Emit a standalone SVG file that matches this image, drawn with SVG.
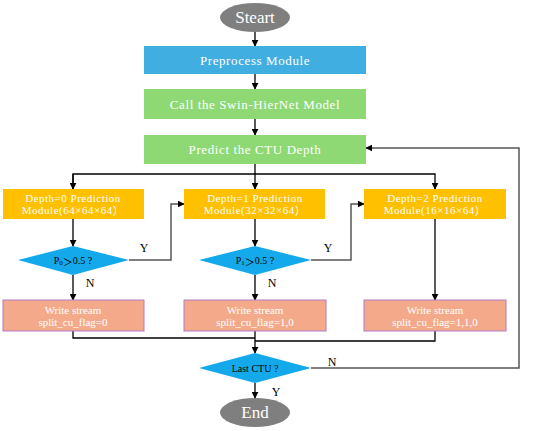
<svg xmlns="http://www.w3.org/2000/svg" width="550" height="431" viewBox="0 0 550 431" font-family="Liberation Serif, Times New Roman, serif">
<defs>
<marker id="ah" viewBox="0 0 10 10" refX="9" refY="5" markerWidth="7" markerHeight="7" markerUnits="userSpaceOnUse" orient="auto">
<path d="M0,0 L10,5 L0,10 z" fill="#000"/>
</marker>
<style>
text{text-anchor:middle;dominant-baseline:central}
.cjk{font-family:'Noto Sans CJK SC',sans-serif}
.w{fill:#fff}
.k{fill:#000}
.c{fill:none;stroke:#000;stroke-width:1.3}
.g{fill:none;stroke:#555;stroke-width:1.5}
.blue{fill:#41AEE2}
.green{fill:#8ED973}
.orange{fill:#FFC000}
.dia{fill:#14A9EA}
.sal{fill:#F4AA8A;stroke:#B07AC8;stroke-width:1}
.ell{fill:#7F7F7F}
</style>
</defs>
<g id="connectors">
<line class="c" x1="255" y1="32" x2="255" y2="46" marker-end="url(#ah)"/>
<line class="c" x1="255" y1="74" x2="255" y2="89" marker-end="url(#ah)"/>
<line class="c" x1="255" y1="119" x2="255" y2="135" marker-end="url(#ah)"/>
<line class="c" x1="255" y1="164" x2="255" y2="189" marker-end="url(#ah)"/>
<polyline class="c" points="73,189 73,174 435,174 435,189" marker-end="url(#ah)"/>
<line class="c" x1="73" y1="174" x2="73" y2="189" marker-end="url(#ah)"/>
<line class="c" x1="73" y1="219" x2="73" y2="246" marker-end="url(#ah)"/>
<line class="c" x1="255" y1="219" x2="255" y2="246" marker-end="url(#ah)"/>
<line class="c" x1="435" y1="219" x2="435" y2="300" marker-end="url(#ah)"/>
<line class="c" x1="73" y1="275" x2="73" y2="300" marker-end="url(#ah)"/>
<line class="c" x1="255" y1="275" x2="255" y2="300" marker-end="url(#ah)"/>
<polyline class="g" points="129,260 171,260 171,204 184,204" marker-end="url(#ah)"/>
<polyline class="g" points="311,260 351,260 351,204 364,204" marker-end="url(#ah)"/>
<polyline class="c" points="73,331 73,338 255,338"/>
<polyline class="c" points="435,331 435,341 255,341"/>
<line class="c" x1="255" y1="331" x2="255" y2="353" marker-end="url(#ah)"/>
<polyline class="g" points="311,368 519,368 519,148 366,148" marker-end="url(#ah)"/>
<line class="c" x1="255" y1="383" x2="255" y2="398" marker-end="url(#ah)"/>
<text class="k" x="144" y="248" font-size="12">Y</text>
<text class="k" x="328" y="248" font-size="12">Y</text>
<text class="k" x="90" y="283" font-size="12">N</text>
<text class="k" x="272" y="283" font-size="12">N</text>
<text class="k" x="332" y="362" font-size="12">N</text>
<text class="k" x="276" y="392" font-size="12">Y</text>
</g>
<g id="start">
<ellipse class="ell" cx="255" cy="17.5" rx="35" ry="14.5"/>
<text class="w" x="255" y="17.5" font-size="17">Steart</text>
</g>
<g id="preprocess">
<rect class="blue" x="144" y="46" width="222" height="28"/>
<text class="w" x="255" y="60" font-size="13" letter-spacing="0.6">Preprocess Module</text>
</g>
<g id="call">
<rect class="green" x="144" y="89" width="222" height="30"/>
<text class="w" x="255" y="104" font-size="13" letter-spacing="0.6">Call the Swin-HierNet Model</text>
</g>
<g id="predict">
<rect class="green" x="144" y="135" width="222" height="29"/>
<text class="w" x="255" y="149.5" font-size="13" letter-spacing="0.6">Predict the CTU Depth</text>
</g>
<g id="depth0">
<rect class="orange" x="3" y="189" width="141" height="30"/>
<text class="w" x="73" y="198" font-size="11" letter-spacing="0.5">Depth=0 Prediction</text>
<text class="w" x="73" y="210" font-size="11" letter-spacing="0.5">Module(64×64×64<tspan class="cjk">）</tspan></text>
</g>
<g id="depth1">
<rect class="orange" x="184" y="189" width="141" height="30"/>
<text class="w" x="255" y="198" font-size="11" letter-spacing="0.5">Depth=1 Prediction</text>
<text class="w" x="255" y="210" font-size="11" letter-spacing="0.5">Module(32×32×64<tspan class="cjk">）</tspan></text>
</g>
<g id="depth2">
<rect class="orange" x="364" y="189" width="142" height="30"/>
<text class="w" x="435" y="198" font-size="11" letter-spacing="0.5">Depth=2 Prediction</text>
<text class="w" x="435" y="210" font-size="11" letter-spacing="0.5">Module(16×16×64<tspan class="cjk">）</tspan></text>
</g>
<g id="p0">
<polygon class="dia" points="18,260 73,246 129,260 73,275"/>
<text class="k" x="73" y="260.5" font-size="10">P<tspan font-size="7" dy="2">0</tspan><tspan class="cjk" dy="-2">＞</tspan>0.5 ?</text>
</g>
<g id="p1">
<polygon class="dia" points="199,260 255,246 311,260 255,275"/>
<text class="k" x="255" y="260.5" font-size="10">P<tspan font-size="7" dy="2">1</tspan><tspan class="cjk" dy="-2">＞</tspan>0.5 ?</text>
</g>
<g id="write0">
<rect class="sal" x="3" y="300" width="141" height="31"/>
<text class="w" x="73" y="310" font-size="11">Write stream</text>
<text class="w" x="73" y="322" font-size="11">split_cu_flag=0</text>
</g>
<g id="write1">
<rect class="sal" x="184" y="300" width="142" height="31"/>
<text class="w" x="255" y="310" font-size="11">Write stream</text>
<text class="w" x="255" y="322" font-size="11">split_cu_flag=1,0</text>
</g>
<g id="write2">
<rect class="sal" x="364" y="300" width="142" height="31"/>
<text class="w" x="435" y="310" font-size="11">Write stream</text>
<text class="w" x="435" y="322" font-size="11">split_cu_flag=1,1,0</text>
</g>
<g id="last">
<polygon class="dia" points="199,368 255,353 311,368 255,383"/>
<text class="k" x="255" y="368" font-size="10">Last CTU ?</text>
</g>
<g id="end">
<ellipse class="ell" cx="255" cy="412.5" rx="35" ry="14.5"/>
<text class="w" x="255" y="412.5" font-size="17">End</text>
</g>
</svg>
